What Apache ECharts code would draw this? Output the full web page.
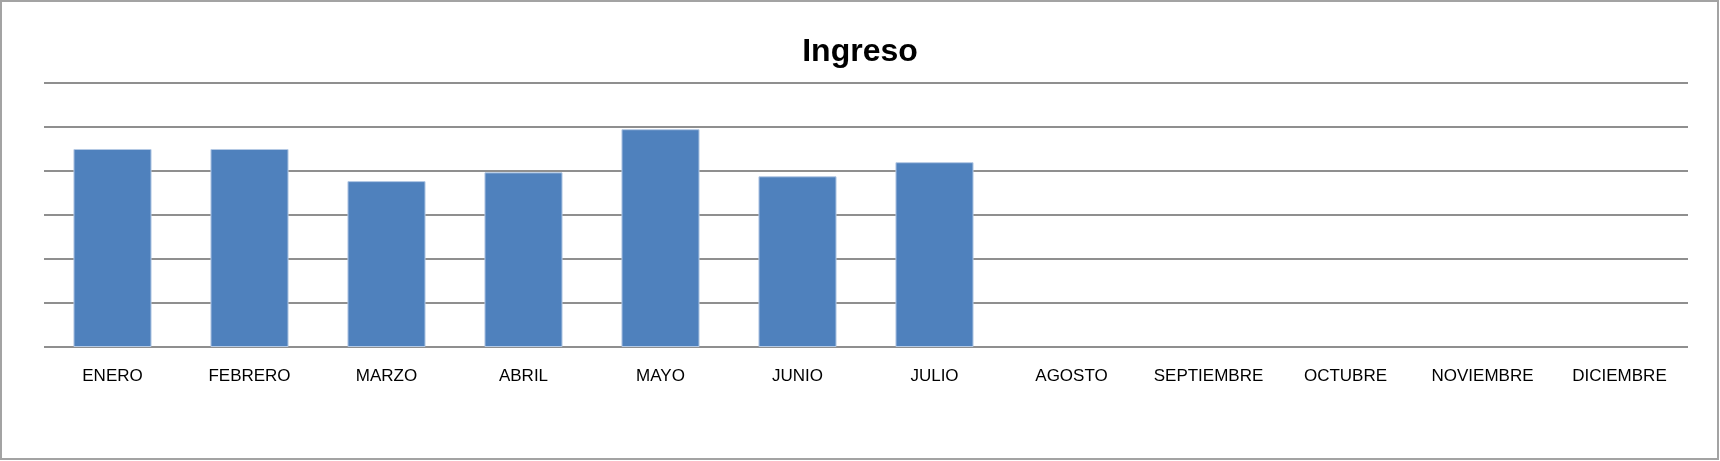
<!DOCTYPE html>
<html>
<head>
<meta charset="utf-8">
<script src="https://cdn.jsdelivr.net/npm/echarts@6/dist/echarts.min.js"></script>
<style>
  html, body { margin: 0; padding: 0; background: #fff; }
  #chart { width: 1720px; height: 461px; }
</style>
</head>
<body>
<div id="chart"></div>
<script>
const titleText = 'Ingreso';
const categories = ['ENERO', 'FEBRERO', 'MARZO', 'ABRIL', 'MAYO', 'JUNIO', 'JULIO', 'AGOSTO', 'SEPTIEMBRE', 'OCTUBRE', 'NOVIEMBRE', 'DICIEMBRE'];
const ingresoValues = [4500, 4500, 3770, 3970, 4950, 3880, 4200, null, null, null, null, null];
const yMin = 0;
const yMax = 6000;
const yInterval = 1000;

const chart = echarts.init(document.getElementById('chart'), null, { renderer: 'canvas' });
chart.setOption({
  animation: false,
  backgroundColor: '#ffffff',
  graphic: [{
    type: 'rect',
    shape: { x: 1, y: 1, width: 1717, height: 458 },
    style: { fill: 'none', stroke: '#a3a3a3', lineWidth: 2 },
    z: 100
  }],
  title: {
    text: titleText,
    left: 'center',
    top: 31,
    textStyle: { fontFamily: 'Liberation Sans', fontWeight: 'bold', fontSize: 32, color: '#000' }
  },
  grid: { left: 44, right: 32, top: 83, bottom: 114, containLabel: false },
  xAxis: {
    type: 'category',
    data: categories,
    axisLine: { show: false },
    axisTick: { show: false },
    axisLabel: { margin: 21, fontFamily: 'Liberation Sans', fontSize: 17, color: '#000', interval: 0 }
  },
  yAxis: {
    type: 'value',
    min: yMin,
    max: yMax,
    interval: yInterval,
    axisLabel: { show: false },
    axisLine: { show: false },
    axisTick: { show: false },
    splitLine: { show: true, lineStyle: { color: '#8f8f8f', width: 2 } }
  },
  series: [{
    name: titleText,
    type: 'bar',
    data: ingresoValues,
    barCategoryGap: '43%',
    itemStyle: { color: '#4F81BD', borderColor: '#b4c9e4', borderWidth: 1 }
  }]
});
</script>
</body>
</html>
